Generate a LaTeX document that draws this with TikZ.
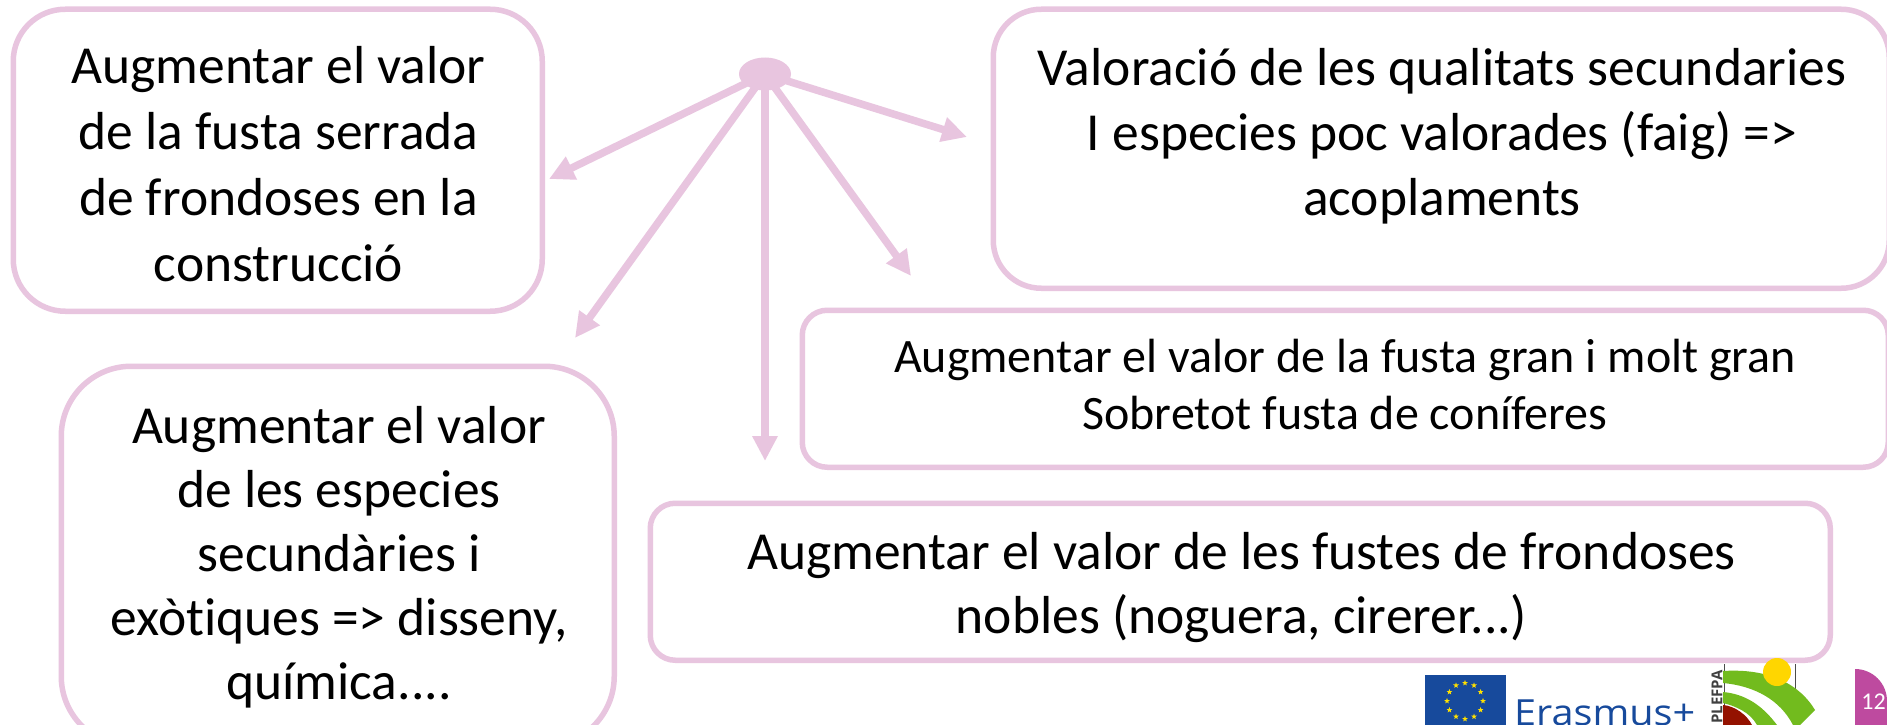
\documentclass[tikz,border=0pt]{standalone}
\usepackage{fontspec}
\setmainfont[Ligatures=NoCommon]{Carlito}
\newfontfamily\logofont[FakeStretch=1.1]{Open Sans}
\newfontfamily\plainlogofont{Open Sans}
\usetikzlibrary{arrows.meta,shapes.geometric,shapes.misc}
\definecolor{pinkline}{HTML}{E8C5DF}
\definecolor{eublue}{HTML}{174A9C}
\definecolor{eustar}{HTML}{FFE100}
\definecolor{leafgreen}{HTML}{72BB1E}
\definecolor{sunyellow}{HTML}{FFD600}
\definecolor{darkred}{HTML}{941200}
\definecolor{pagemag}{HTML}{BE4A9F}
\tikzset{
  boxbase/.style={draw=pinkline,line width=5.5pt,fill=white,anchor=north west,inner sep=0pt},
  boxtext/.style={align=center,text=black,inner sep=0pt,font=\fontsize{53.5}{65}\selectfont},
  conn/.style={draw=pinkline,line width=7.5pt,-{Triangle[length=25pt,width=24pt]}},
  hub/.style={ellipse,fill=pinkline,minimum width=52pt,minimum height=33pt,inner sep=0pt}
}
\begin{document}
\begin{tikzpicture}[x=1pt,y=-1pt]
\clip (0,0) rectangle (1887,725);
\fill[white] (0,0) rectangle (1887,725);

% boxes
\node[boxbase,rounded corners=52pt,minimum width=529pt,minimum height=302pt] (frondoses) at (10.5,6.5) {};
\node[boxtext,font=\fontsize{53.5}{66}\selectfont] (frondosestext) at (278.5,164)
  {Augmentar el valor\\de la fusta serrada\\de frondoses en la\\construcció};
\node[boxbase,rounded corners=48pt,minimum width=896pt,minimum height=279pt] (qualitats) at (990.5,6.5) {};
\node[boxtext] (qualitatstext) at (1442,136)
  {Valoració de les qualitats secundaries\\I especies poc valorades (faig) =>\\acoplaments};
\node[boxbase,rounded corners=25pt,minimum width=1086pt,minimum height=157pt] (gran) at (799.5,307.5) {};
\node[boxtext,font=\fontsize{48}{57}\selectfont] (grantext) at (1345,385)
  {Augmentar el valor de la fusta gran i molt gran\\Sobretot fusta de coníferes};
\node[boxbase,rounded corners=25pt,minimum width=1180pt,minimum height=157pt] (nobles) at (647.5,500.5) {};
\node[boxtext,font=\fontsize{53.5}{64}\selectfont] (noblestext) at (1241.5,588)
  {Augmentar el valor de les fustes de frondoses\\nobles (noguera, cirerer...)};
\node[boxbase,rounded corners=70pt,minimum width=553pt,minimum height=380pt] (exotiques) at (58.5,363.5) {};
\node[boxtext,font=\fontsize{53.5}{64}\selectfont] (exotiquestext) at (339,557)
  {Augmentar el valor\\de les especies\\secundàries i\\exòtiques => disseny,\\química....};

% hub and connectors
\node[hub] (hub) at (765,74) {};
\coordinate (tipA) at (549,179);
\coordinate (tipB) at (575,338);
\coordinate (tipC) at (765,461);
\coordinate (tipD) at (911,276);
\coordinate (tipE) at (967,137);
\draw[conn] (hub.center) -- (tipA);
\draw[conn] (hub.center) -- (tipB);
\draw[conn] (hub.center) -- (tipC);
\draw[conn] (hub.center) -- (tipD);
\draw[conn] (hub.center) -- (tipE);

% Erasmus+ logo
\fill[eublue] (1425,675) rectangle (1506,730);
\foreach \a in {0,30,...,330}
  \node[star,star points=5,star point ratio=2.4,fill=eustar,inner sep=0pt,minimum size=6pt] at ({1465+18*cos(\a)},{701+18*sin(\a)}) {};
\node[anchor=base west,inner sep=0pt,text=eublue,font=\fontsize{36}{36}\selectfont\logofont] (erasmus) at (1514,725) {Erasmus+};

% PLEFPA logo
\node[rotate=90,anchor=west,inner sep=0pt,font=\fontsize{15}{15}\selectfont\bfseries\plainlogofont,text=black!75] (plefpa) at (1717,724) {PLEFPA};
\draw[black!70,line width=1pt] (1724,664) -- (1724,725);
\draw[black!70,line width=1pt] (1795,664) -- (1795,725);
\fill[leafgreen] (1723,671) .. controls (1770,668) and (1800,685) .. (1815,710) -- (1800,725) -- (1793,725) .. controls (1780,700) and (1755,686) .. (1723,683) -- cycle;
\fill[sunyellow] (1777,672) circle (14pt);
\fill[leafgreen] (1723,692) .. controls (1745,694) and (1762,705) .. (1777,725) -- (1757,725) .. controls (1750,712) and (1735,706) .. (1723,703) -- cycle;
\fill[darkred] (1723,705) .. controls (1735,706) and (1747,715) .. (1752,725) -- (1723,725) -- cycle;

% page number
\fill[pagemag] (1855,669) arc[start angle=90,end angle=0,radius=32pt] -- (1887,725) -- (1855,725) -- cycle;
\node[inner sep=0pt,text=white,font=\fontsize{24}{24}\selectfont] (pagenum) at (1873.5,702) {12};
\end{tikzpicture}
\end{document}
